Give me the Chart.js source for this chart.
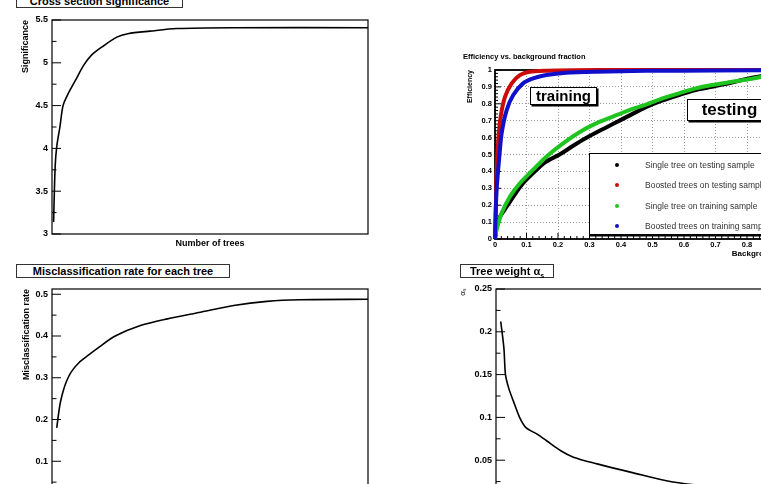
<!DOCTYPE html>
<html>
<head>
<meta charset="utf-8">
<title>BDT training summary</title>
<script src="https://cdn.jsdelivr.net/npm/chart.js@4.4.1/dist/chart.umd.min.js"></script>
<style>
  html, body { margin: 0; padding: 0; background: #fff; }
  #fig { position: relative; width: 761px; height: 484px; overflow: hidden; font-family: 'Liberation Sans', Arial, sans-serif; }
  #fig canvas { position: absolute; }
  .tbox { position: absolute; box-sizing: border-box; border: 1px solid #333; background: #fff; font-weight: bold; font-size: 11px; line-height: 12px; text-align: center; color: #000; white-space: nowrap; }
  .tbox sub { font-size: 7px; line-height: 0; }
  .label { position: absolute; box-sizing: border-box; border: 1px solid #000; background: #fff; box-shadow: 1.5px 1.5px 0 #000; font-weight: bold; text-align: center; white-space: nowrap; color: #000; }
  #roc-title { position: absolute; left: 463px; top: 52px; font-size: 7.5px; font-weight: bold; white-space: nowrap; }
  #legend { position: absolute; left: 589px; top: 153px; width: 240px; height: 82px; box-sizing: border-box; border: 1.5px solid #000; box-shadow: 0 1.5px 0 #000; background: #fff; }
  #legend .dot { position: absolute; width: 4px; height: 4px; border-radius: 50%; margin: -2px 0 0 -2px; }
  #legend .txt { position: absolute; font-size: 8.5px; line-height: 10px; margin-top: -5px; color: #333; white-space: nowrap; }
</style>
</head>
<body>
<div id="fig">
  <canvas id="c-sig" width="380" height="260" style="left:0;top:0"></canvas>
  <canvas id="c-roc" width="380" height="269" style="left:444px;top:0"></canvas>
  <canvas id="c-mis" width="380" height="260" style="left:0;top:269px"></canvas>
  <canvas id="c-alpha" width="380" height="260" style="left:444px;top:269px"></canvas>

  <div class="tbox" style="left:16px;top:-6px;width:167px;height:14px">Cross section significance</div>
  <div class="tbox" style="left:16px;top:264px;width:214px;height:14px">Misclassification rate for each tree</div>
  <div class="tbox" style="left:460px;top:264px;width:94px;height:14px">Tree weight &alpha;<sub>s</sub></div>

  <div id="roc-title">Efficiency vs. background fraction</div>
  <div class="label" style="left:530px;top:87px;width:67px;height:18px;font-size:15px;line-height:16px">training</div>
  <div class="label" style="left:687px;top:99px;width:85px;height:22px;font-size:17px;line-height:20px">testing</div>
  <div id="legend"></div>
</div>

<script>
(function () {
  'use strict';

  // cross section significance vs number of trees
  var sigTrees = [1, 2, 3, 5, 7, 10, 15, 20, 25, 32, 41, 48, 62, 79, 115, 200];
  var sigValues = [3.14, 3.79, 4.02, 4.25, 4.50, 4.63, 4.80, 4.97, 5.09, 5.19, 5.30, 5.34, 5.37, 5.40, 5.41, 5.41];

  // misclassification rate of each tree
  var misTrees = [3, 5, 7, 9, 12, 17, 23, 30, 40, 56, 73, 94, 115, 136, 157, 200];
  var misRates = [0.180, 0.235, 0.267, 0.290, 0.313, 0.336, 0.354, 0.374, 0.400, 0.425, 0.441, 0.457, 0.473, 0.483, 0.487, 0.488];

  // tree weight alpha
  var alphaTrees = [3, 5, 6, 8, 11, 15, 19, 26, 32, 41, 49, 64, 85, 112, 150, 200];
  var alphaWeights = [0.212, 0.181, 0.150, 0.1345, 0.119, 0.0998, 0.088, 0.0804, 0.0727, 0.061, 0.0535, 0.0457, 0.0361, 0.0245, 0.017, 0.012];

  // ROC curves: background fraction / signal efficiency
  var singleTestBkg = [0, 0.005, 0.016, 0.037, 0.058, 0.089, 0.132, 0.163, 0.205, 0.247, 0.289, 0.332, 0.374, 0.426, 0.479, 0.532, 0.584, 0.637, 0.689, 0.742, 0.795, 0.84, 0.9, 1.0];
  var singleTestEff = [0, 0.073, 0.132, 0.191, 0.25, 0.33, 0.41, 0.458, 0.50, 0.55, 0.597, 0.64, 0.68, 0.73, 0.78, 0.82, 0.852, 0.882, 0.901, 0.921, 0.945, 0.961, 0.978, 1.0];
  var boostTestBkg = [0, 0.003, 0.005, 0.0105, 0.018, 0.032, 0.053, 0.079, 0.11, 0.163, 0.25, 0.4, 0.6, 0.8, 1.0];
  var boostTestEff = [0, 0.2, 0.39, 0.586, 0.724, 0.842, 0.921, 0.97, 0.99, 0.996, 0.999, 1, 1, 1, 1];
  var singleTrainBkg = [0, 0.005, 0.021, 0.047, 0.079, 0.121, 0.163, 0.216, 0.268, 0.321, 0.374, 0.426, 0.479, 0.532, 0.584, 0.637, 0.689, 0.742, 0.795, 0.84, 0.9, 1.0];
  var singleTrainEff = [0, 0.053, 0.152, 0.25, 0.33, 0.41, 0.487, 0.566, 0.632, 0.684, 0.724, 0.763, 0.795, 0.832, 0.862, 0.891, 0.911, 0.927, 0.942, 0.957, 0.975, 1.0];
  var boostTrainBkg = [0, 0.002, 0.005, 0.0137, 0.021, 0.037, 0.058, 0.089, 0.121, 0.163, 0.226, 0.321, 0.479, 0.7, 1.0];
  var boostTrainEff = [0, 0.15, 0.29, 0.487, 0.625, 0.763, 0.852, 0.921, 0.95, 0.97, 0.984, 0.99, 0.995, 0.997, 1];

  var rocLabels = ['Single tree on testing sample', 'Boosted trees on testing sample', 'Single tree on training sample', 'Boosted trees on training sample'];
  var rocColors = ['#000000', '#cc0a0a', '#1fc41f', '#1010cc'];

  var FONT = "'Liberation Sans', Arial, sans-serif";

  function pairs(xs, ys) {
    return xs.map(function (x, i) {
      return { x: x, y: ys[i] };
    });
  }

  function fmt(v) {
    return String(+v.toFixed(3));
  }

  function bold(size) {
    return { family: FONT, size: size, weight: 'bold' };
  }

  // ROOT style frame with ticks pointing into the pad
  function drawTicks(ctx, scale, t, seg) {
    var n = Math.floor((scale.max - scale.min) / t.step * t.div + 1e-6);
    for (var k = 0; k <= n; k++) {
      var p = scale.getPixelForValue(scale.min + k * t.step / t.div);
      seg(p, k % t.div === 0 ? t.len : t.len / 2);
    }
  }

  var rootFrame = {
    id: 'rootFrame',
    beforeDatasetsDraw: function (chart, args, o) {
      var a = chart.chartArea;
      var ctx = chart.ctx;
      ctx.save();
      ctx.strokeStyle = '#000';
      ctx.lineWidth = 1;
      ctx.beginPath();
      drawTicks(ctx, chart.scales.y, o.y, function (p, len) {
        ctx.moveTo(a.left, p);
        ctx.lineTo(a.left + len, p);
      });
      if (o.x) {
        drawTicks(ctx, chart.scales.x, o.x, function (p, len) {
          ctx.moveTo(p, a.bottom);
          ctx.lineTo(p, a.bottom - len);
        });
      }
      ctx.stroke();
      ctx.lineWidth = o.width;
      ctx.strokeRect(a.left, a.top, a.right - a.left, a.bottom - a.top);
      ctx.restore();
    },
  };

  function curveChart(id, xs, ys, yMin, yMax, yStep, yTitle, yTitleSize, yTitlePad, xTitle) {
    return new Chart(document.getElementById(id), {
      type: 'line',
      data: {
        datasets: [
          {
            data: pairs(xs, ys),
            borderColor: '#000',
            borderWidth: 1.6,
            pointRadius: 0,
            fill: false,
            tension: 0.3,
            clip: 4,
          },
        ],
      },
      options: {
        responsive: false,
        animation: false,
        events: [],
        layout: { padding: { left: 0, top: 20, right: 12, bottom: 0 } },
        plugins: {
          legend: { display: false },
          tooltip: { enabled: false },
          rootFrame: { width: 1.2, y: { step: yStep, div: 2, len: 9 } },
        },
        scales: {
          x: {
            type: 'linear',
            min: 0,
            max: 200,
            grid: { display: false, drawTicks: false },
            border: { display: false },
            ticks: { display: false },
            title: { display: !!xTitle, text: xTitle || '', color: '#000', font: bold(9), padding: { top: 0, bottom: 11.3 } },
            afterFit: function (s) {
              s.height = 26;
            },
          },
          y: {
            min: yMin,
            max: yMax,
            grid: { display: false, drawTicks: false },
            border: { display: false },
            ticks: { stepSize: yStep, includeBounds: false, padding: 4, color: '#000', font: bold(9), callback: fmt },
            title: { display: true, text: yTitle, align: 'end', color: '#000', font: yTitleSize, padding: { top: yTitlePad, bottom: 0 } },
            afterFit: function (s) {
              s.width = 52;
            },
          },
        },
      },
      plugins: [rootFrame],
    });
  }

  curveChart('c-sig', sigTrees, sigValues, 3, 5.5, 0.5, 'Significance', bold(9), 20.6, 'Number of trees');
  curveChart('c-mis', misTrees, misRates, 0, 0.5126, 0.1, 'Misclassification rate', bold(9), 21.3, null);
  curveChart('c-alpha', alphaTrees, alphaWeights, 0, 0.25, 0.05, 'α\u209B', { family: FONT, size: 8 }, 14.2, null);

  var rocBkg = [singleTestBkg, boostTestBkg, singleTrainBkg, boostTrainBkg];
  var rocEff = [singleTestEff, boostTestEff, singleTrainEff, boostTrainEff];
  var rocOrder = [3, 2, 1, 0];

  new Chart(document.getElementById('c-roc'), {
    type: 'line',
    data: {
      datasets: rocLabels.map(function (label, i) {
        return {
          label: label,
          data: pairs(rocBkg[i], rocEff[i]),
          borderColor: rocColors[i],
          borderWidth: 4,
          pointRadius: 0,
          fill: false,
          tension: 0.25,
          order: rocOrder[i],
          clip: 6,
        };
      }),
    },
    options: {
      responsive: false,
      animation: false,
      events: [],
      layout: { padding: { left: 0, top: 70, right: 14, bottom: 0 } },
      plugins: {
        legend: { display: false },
        tooltip: { enabled: false },
        rootFrame: { width: 1.8, y: { step: 0.1, div: 5, len: 6 }, x: { step: 0.1, div: 5, len: 6 } },
      },
      scales: {
        x: {
          type: 'linear',
          min: 0,
          max: 1,
          grid: { color: '#9a9a9a', lineWidth: 1, drawTicks: false },
          border: { display: false, dash: [1, 2] },
          ticks: { stepSize: 0.1, includeBounds: false, padding: 1, color: '#000', font: bold(7.5), callback: fmt, maxRotation: 0 },
          title: { display: true, text: 'Background fraction', align: 'end', color: '#000', font: bold(8), padding: { top: 0, bottom: 10.9 } },
          afterFit: function (s) {
            s.height = 30;
          },
        },
        y: {
          min: 0,
          max: 1,
          grid: { color: '#9a9a9a', lineWidth: 1, drawTicks: false },
          border: { display: false, dash: [1, 2] },
          ticks: { stepSize: 0.1, includeBounds: false, padding: 3, color: '#000', font: bold(7.5), callback: fmt },
          title: { display: true, text: 'Efficiency', align: 'end', color: '#000', font: bold(7), padding: { top: 21.8, bottom: 0 } },
          afterFit: function (s) {
            s.width = 51;
          },
        },
      },
    },
    plugins: [rootFrame],
  });

  // legend of the ROC pad
  var legend = document.getElementById('legend');
  rocLabels.forEach(function (label, i) {
    var cy = 11 + i * 20.3;
    var dot = document.createElement('span');
    dot.className = 'dot';
    dot.style.left = '27px';
    dot.style.top = cy + 'px';
    dot.style.background = rocColors[i];
    var txt = document.createElement('span');
    txt.className = 'txt';
    txt.style.left = '55px';
    txt.style.top = cy + 'px';
    txt.textContent = label;
    legend.appendChild(dot);
    legend.appendChild(txt);
  });
})();
</script>
</body>
</html>
